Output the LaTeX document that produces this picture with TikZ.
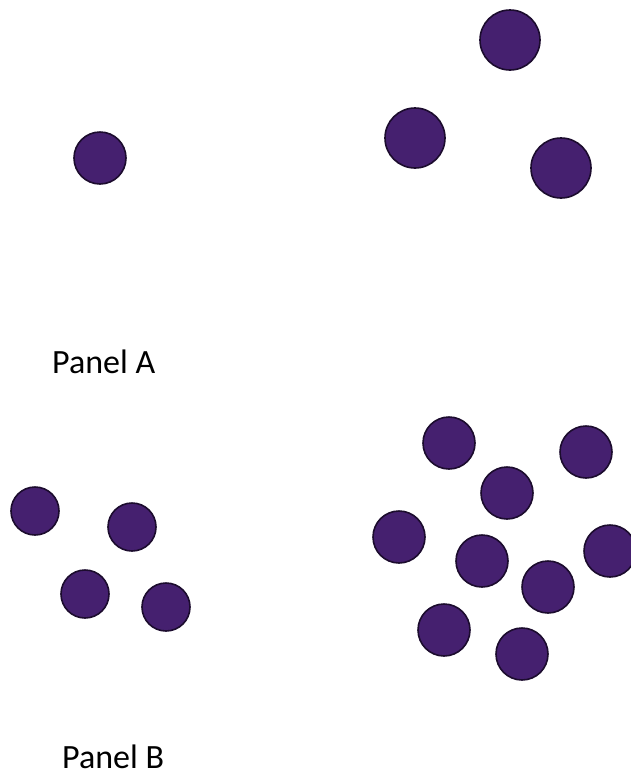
\documentclass[tikz,border=0pt]{standalone}
\usepackage{fontspec}
\setmainfont{Carlito}
\usetikzlibrary{positioning}
\definecolor{grape}{HTML}{45206F}
\definecolor{grapedark}{HTML}{1C0C2E}

\begin{document}
\begin{tikzpicture}[
    x=1pt, y=-1pt,
    % Styles
    disc/.style={
        circle,
        draw=grapedark,
        fill=grape,
        line width=1.6pt,
        inner sep=0pt,
        minimum size=52pt
    },
    bigdisc/.style={
        disc,
        minimum size=60pt
    },
    smalldisc/.style={
        disc,
        minimum size=48pt
    },
    panellabel/.style={
        anchor=base west,
        inner sep=0pt,
        font=\fontsize{34}{40}\selectfont
    }
]
    \useasboundingbox (0,0) rectangle (630,777);

    % ================= PANEL A =================
    \node[disc] (aone) at (100,158) {};
    \node[bigdisc] (atop) at (510,40) {};
    \node[bigdisc] (aleft) at (415,138) {};
    \node[bigdisc] (aright) at (561,168) {};
    \node[panellabel] (labela) at (52,373) {Panel A};

    % ================= PANEL B =================
    % Left group
    \node[smalldisc] (bl1) at (35,511) {};
    \node[smalldisc] (bl2) at (132,527) {};
    \node[smalldisc] (bl3) at (85,594) {};
    \node[smalldisc] (bl4) at (166,607) {};

    % Right group
    \node[disc] (br1) at (449,443) {};
    \node[disc] (br2) at (586,452) {};
    \node[disc] (br3) at (507,493) {};
    \node[disc] (br4) at (399,537) {};
    \node[disc] (br5) at (482,561) {};
    \node[disc] (br6) at (610,551) {};
    \node[disc] (br7) at (548,587) {};
    \node[disc] (br8) at (444,630) {};
    \node[disc] (br9) at (522,654) {};

    \node[panellabel] (labelb) at (62,768) {Panel B};

\end{tikzpicture}
\end{document}
